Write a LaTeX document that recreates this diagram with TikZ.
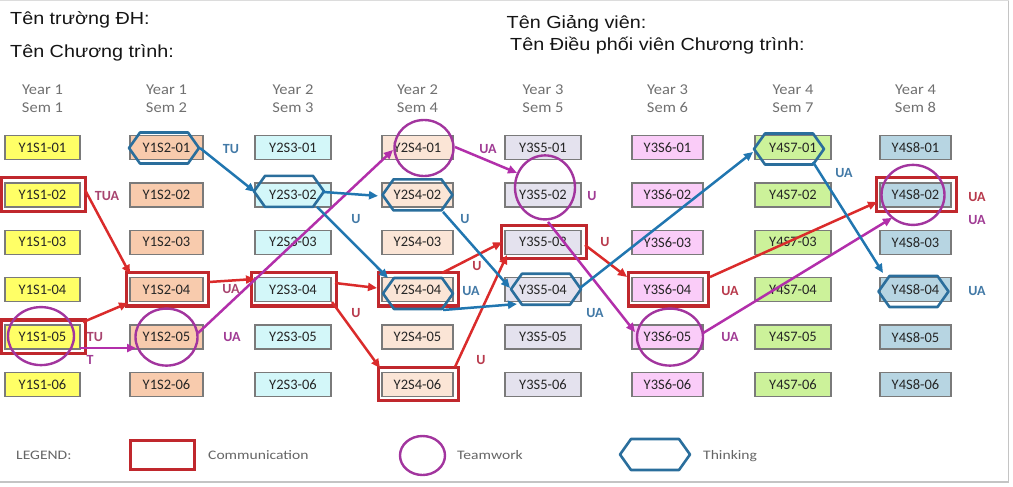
\documentclass[tikz,border=0pt]{standalone}
\usepackage{fontspec}
\setmainfont{Carlito}
\newfontfamily\hdrfont[FakeStretch=1.13]{Liberation Sans}
\newfontfamily\yearfont[FakeStretch=1.1]{Carlito}
\newfontfamily\legfont[FakeStretch=1.2]{Carlito}
\usetikzlibrary{arrows.meta}
\definecolor{cA}{HTML}{FFFF66}
\definecolor{cB}{HTML}{F8CBAD}
\definecolor{cC}{HTML}{D3F7F9}
\definecolor{cD}{HTML}{FBE5D6}
\definecolor{cE}{HTML}{E4E2EE}
\definecolor{cF}{HTML}{FACCF8}
\definecolor{cG}{HTML}{CCF29A}
\definecolor{cH}{HTML}{B7D5E2}
\definecolor{boxgray}{HTML}{7A7A7A}
\definecolor{boxtext}{HTML}{262626}
\definecolor{commred}{HTML}{C0282D}
\definecolor{twpurple}{HTML}{A2359E}
\definecolor{hexblue}{HTML}{2A6E9C}
\definecolor{arred}{HTML}{DA2B2B}
\definecolor{arpur}{HTML}{B22FAA}
\definecolor{arblue}{HTML}{2176B0}
\definecolor{labR}{HTML}{B83A4C}
\definecolor{labM}{HTML}{A8446F}
\definecolor{labP}{HTML}{A03C94}
\definecolor{labB}{HTML}{4279A6}
\definecolor{yeargray}{HTML}{707070}
\definecolor{framecol}{HTML}{C4C4C4}
\definecolor{hdrtext}{HTML}{141414}
\begin{document}
\begin{tikzpicture}[x=1pt,y=-1pt,
  box/.style={draw=boxgray, line width=1.4pt, minimum height=24pt, inner sep=0pt,
    font=\fontsize{14.5}{16}\selectfont, text=boxtext},
  comm/.style={draw=commred, line width=3.2pt},
  tw/.style={draw=twpurple, line width=2.4pt},
  hexline/.style={draw=hexblue, line width=2.6pt, line join=round},
  arbase/.style={line width=2.5pt, -{Triangle[length=9pt,width=8pt]}},
  arR/.style={arbase, draw=arred, fill=arred},
  arP/.style={arbase, draw=arpur, fill=arpur},
  arB/.style={arbase, draw=arblue, fill=arblue},
  lab/.style={font=\bfseries\fontsize{14}{16}\selectfont, inner sep=0pt},
  hdr/.style={anchor=base west, inner sep=0pt, text=hdrtext, font=\hdrfont\fontsize{17.5}{20}\selectfont},
  yearlab/.style={anchor=base, inner sep=0pt, text=yeargray, font=\yearfont\fontsize{15}{17}\selectfont},
  leg/.style={anchor=base west, inner sep=0pt, text=yeargray!90!black, font=\legfont\fontsize{13}{15}\selectfont},
  pics/hexa/.style={code={\draw[hexline] (-35,0)--(-24,-15.5)--(24,-15.5)--(35,0)--(24,15.5)--(-24,15.5)--cycle;}}
]
\useasboundingbox (0,0) rectangle (1013,487);
% frame
\draw[framecol!60, line width=1pt] (-5,0.8) -- (1008.5,0.8);
\draw[framecol, line width=1.3pt] (1008.5,0.8) -- (1008.5,482) -- (-5,482);

% titles
\node[hdr] (t1) at (10,25) {Tên trường ĐH:};
\node[hdr] (t2) at (10,57.3) {Tên Chương trình:};
\node[hdr] (t3) at (506.5,28.3) {Tên Giảng viên:};
\node[hdr] (t4) at (510,50.7) {Tên Điều phối viên Chương trình:};

% column headers
\foreach \x/\yr/\s in {42.5/1/1, 166.5/1/2, 293/2/3, 417.5/2/4, 543/3/5, 667.5/3/6, 793/4/7, 915.5/4/8}{
  \node[yearlab] (yh\s) at (\x,94.5) {Year \yr};
  \node[yearlab] (sh\s) at (\x,112.7) {Sem \s};
}

% boxes
\foreach \c/\x/\w/\f/\p in {1/42.5/75/cA/Y1S1, 2/166.5/73/cB/Y1S2, 3/293/76/cC/Y2S3, 4/417.5/71/cD/Y2S4, 5/543/76/cE/Y3S5, 6/667.5/71/cF/Y3S6, 7/793/76/cG/Y4S7, 8/915.5/71/cH/Y4S8}{
  \foreach \r in {1,...,6}{
    \pgfmathsetmacro\yy{147.5+47.4*(\r-1)}
    \node[box, fill=\f, minimum width=\w pt] (b\c\r) at (\x,\yy) {\p-0\r};
  }
}

% communication (red rectangles)
\foreach \n in {b12,b15,b24,b34,b44,b46,b53,b64,b82}{
  \draw[comm] ([shift={(-3,-4.5)}]\n.north west) rectangle ([shift={(5,3.5)}]\n.south east);
}

% thinking (hexagons)
\pic at ([shift={(-2.5,0.5)}]b21.center) {hexa};
\pic at ([shift={(-4,-3.5)}]b32.center) {hexa};
\pic at ([shift={(0,0)}]b42.center) {hexa};
\pic at ([shift={(0.5,3.8)}]b44.center) {hexa};
\pic at ([shift={(3,-0.5)}]b54.center) {hexa};
\pic at ([shift={(-4,1.5)}]b71.center) {hexa};
\pic at ([shift={(-2,1.8)}]b84.center) {hexa};

% teamwork (circles)
\draw[tw] ([shift={(-1.5,-1)}]b15.center) ellipse [x radius=33pt, y radius=29pt];
\draw[tw] ([shift={(0,0)}]b25.center) ellipse [x radius=31pt, y radius=28.5pt];
\draw[tw] ([shift={(6.5,0.5)}]b41.center) ellipse [x radius=29.5pt, y radius=28pt];
\draw[tw] ([shift={(2,-7.5)}]b52.center) ellipse [x radius=30pt, y radius=32pt];
\draw[tw] ([shift={(2.5,0)}]b65.center) ellipse [x radius=33pt, y radius=28.5pt];
\draw[tw] ([shift={(-2.5,0)}]b82.center) ellipse [x radius=31.5pt, y radius=30pt];

% red arrows (communication)
\draw[arR] ([shift={(42.5,-5)}]b12.center) -- ([shift={(-36.5,-15.7)}]b24.center);
\draw[arR] ([shift={(40.5,-15)}]b15.center) -- ([shift={(-38.5,13.3)}]b24.center);
\draw[arR] ([shift={(42.5,-7.7)}]b24.center) -- ([shift={(-38,-10.7)}]b34.center);
\draw[arR] ([shift={(42,-6.7)}]b34.center) -- ([shift={(-40.5,-1.7)}]b44.center);
\draw[arR] ([shift={(39,12.3)}]b34.center) -- ([shift={(-37.5,-16.5)}]b46.center);
\draw[arR] ([shift={(24.5,-16.7)}]b44.center) -- ([shift={(-41,0)}]b53.center);
\draw[arR] ([shift={(37.5,-17.5)}]b46.center) -- ([shift={(-36,12.7)}]b53.center);
\draw[arR] ([shift={(42,2.7)}]b53.center) -- ([shift={(-40.5,-12.7)}]b64.center);
\draw[arR] ([shift={(42.5,-12.7)}]b64.center) -- ([shift={(-38.5,7.1)}]b82.center);

% purple arrows (teamwork)
\draw[arP] ([shift={(37.5,11)}]b15.center) -- ([shift={(-30.5,11)}]b25.center);
\draw[arP] ([shift={(31.5,-4)}]b25.center) -- ([shift={(-24.5,2.5)}]b41.center);
\draw[arP] ([shift={(37.5,-0.5)}]b41.center) -- ([shift={(-26,-22)}]b52.center);
\draw[arP] ([shift={(5,27)}]b52.center) -- ([shift={(-32.5,-5)}]b65.center);
\draw[arP] ([shift={(35.5,-4)}]b65.center) -- ([shift={(-23.5,23)}]b82.center);

% blue arrows (thinking)
\draw[arB] ([shift={(33.5,0.5)}]b21.center) -- ([shift={(-38,-3)}]b32.center);
\draw[arB] ([shift={(29,-3)}]b32.center) -- ([shift={(-39.5,1)}]b42.center);
\draw[arB] ([shift={(24,12)}]b32.center) -- ([shift={(-29.5,-11.7)}]b44.center);
\draw[arB] ([shift={(25.5,17)}]b42.center) -- ([shift={(-33,-1.7)}]b54.center);
\draw[arB] ([shift={(25.5,20.3)}]b44.center) -- ([shift={(-26,14.3)}]b54.center);
\draw[arB] ([shift={(37,-1.7)}]b54.center) -- ([shift={(-40,4.5)}]b71.center);
\draw[arB] ([shift={(20,14.5)}]b71.center) -- ([shift={(-32.5,-16.7)}]b84.center);

% labels
\node[lab, text=labM] (l01) at (107,196) {TUA};
\node[lab, text=labM] (l02) at (95,337.5) {TU};
\node[lab, text=labP] (l03) at (90,360) {T};
\node[lab, text=labM] (l04) at (231,289.5) {UA};
\node[lab, text=labP] (l05) at (232,337.5) {UA};
\node[lab, text=labB] (l06) at (231,149) {TU};
\node[lab, text=labB] (l07) at (356,219) {U};
\node[lab, text=labB] (l08) at (465,219) {U};
\node[lab, text=labR] (l09) at (356,313.5) {U};
\node[lab, text=labR] (l10) at (477,266) {U};
\node[lab, text=labB] (l11) at (471,291) {UA};
\node[lab, text=labR] (l12) at (481,360) {U};
\node[lab, text=labP] (l13) at (488,149) {UA};
\node[lab, text=labP] (l14) at (592,196) {U};
\node[lab, text=labR] (l15) at (605,242.5) {U};
\node[lab, text=labB] (l16) at (595,313) {UA};
\node[lab, text=labR] (l17) at (730,291) {UA};
\node[lab, text=labP] (l18) at (730,337.5) {UA};
\node[lab, text=labB] (l19) at (844,173) {UA};
\node[lab, text=labR] (l20) at (977,197) {UA};
\node[lab, text=labP] (l21) at (977,220) {UA};
\node[lab, text=labB] (l22) at (977,291) {UA};

% legend
\node[leg] (lg0) at (16,459.5) {LEGEND:};
\draw[comm, line width=3pt] (130,440) rectangle (194,469);
\node[leg] (lg1) at (208,459.5) {Communication};
\draw[tw] (422.5,455.5) ellipse [x radius=22.5pt, y radius=19.5pt];
\node[leg] (lg2) at (457,459.5) {Teamwork};
\pic at (655,454.5) {hexa};
\node[leg] (lg3) at (703,459.5) {Thinking};
\end{tikzpicture}
\end{document}
